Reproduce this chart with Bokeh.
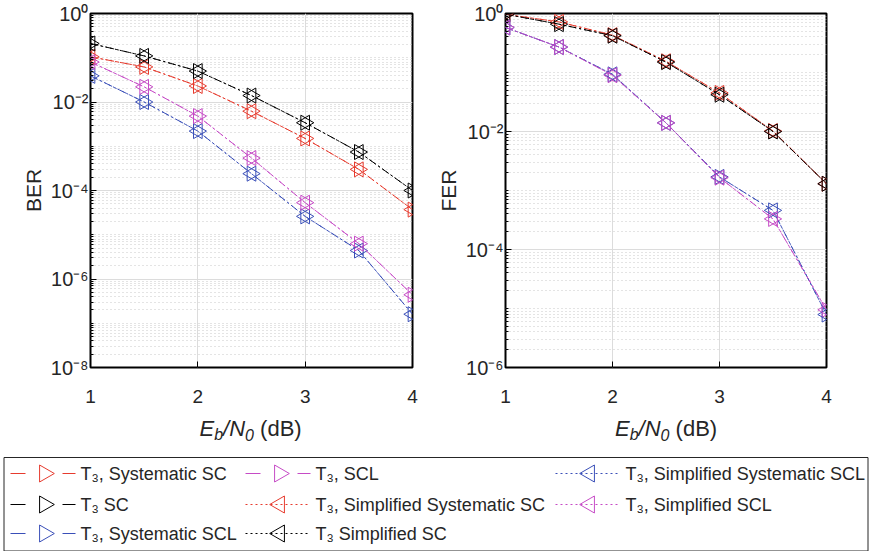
import math
from bokeh.plotting import figure
from bokeh.layouts import column, row
from bokeh.models import FixedTicker, CustomJSTickFormatter, Range1d
from bokeh.core.properties import value
from bokeh.embed import file_html
from bokeh.resources import INLINE

# ---------------- data ----------------
ebn0 = [1.0, 1.5, 2.0, 2.5, 3.0, 3.5, 4.0]

ber_sys_sc = [1.05e-1, 6.2e-2, 2.3e-2, 6.2e-3, 1.5e-3, 3.0e-4, 3.7e-5]
ber_sc = [2.1e-1, 1.1e-1, 5.0e-2, 1.4e-2, 3.4e-3, 7.4e-4, 1.0e-4]
ber_sys_scl = [3.9e-2, 1.0e-2, 2.2e-3, 2.4e-4, 2.6e-5, 4.4e-6, 1.6e-7]
ber_scl = [8.0e-2, 2.2e-2, 4.8e-3, 5.4e-4, 5.3e-5, 6.3e-6, 4.4e-7]

fer_sys_sc = [0.97, 0.72, 0.43, 0.155, 0.045, 1.02e-2, 1.3e-3]
fer_sc = [0.97, 0.66, 0.42, 0.150, 0.042, 1.00e-2, 1.3e-3]
fer_sys_scl = [0.58, 0.27, 0.093, 1.4e-2, 1.7e-3, 4.6e-4, 7.9e-6]
fer_scl = [0.58, 0.27, 0.090, 1.4e-2, 1.65e-3, 3.3e-4, 9.5e-6]

labels = ["T\u2083, Systematic SC", "T\u2083 SC", "T\u2083, Systematic SCL",
          "T\u2083, SCL", "T\u2083, Simplified Systematic SC",
          "T\u2083 Simplified SC", "T\u2083, Simplified Systematic SCL",
          "T\u2083, Simplified SCL"]

RED, BLACK, BLUE, MAG = "#E63B2E", "#000000", "#3A4FB8", "#C64BC6"
colors = [RED, BLACK, BLUE, MAG, RED, BLACK, BLUE, MAG]
DASHDOT = "8 3 2 3"
DOT = "2 3"
dashes = [DASHDOT] * 4 + [DOT] * 4
leg_dashes = ["15 37"] * 4 + [DOT] * 4
angles = [-math.pi / 2] * 4 + [math.pi / 2] * 4

ber_series = [ber_sys_sc, ber_sc, ber_sys_scl, ber_scl,
              ber_sys_sc, ber_sc, ber_sys_scl, ber_scl]
fer_series = [fer_sys_sc, fer_sc, fer_sys_scl, fer_scl,
              fer_sys_sc, fer_sc, fer_sys_scl, fer_scl]

FONT = "Liberation Sans"
TXT = "#262626"
MSIZE = 15
LSIZE = 17

sup_code = """
const e = Math.round(Math.log10(tick));
const m = {"-":"\u207b","0":"\u2070","1":"\u00b9","2":"\u00b2","3":"\u00b3",
           "4":"\u2074","5":"\u2075","6":"\u2076","7":"\u2077","8":"\u2078","9":"\u2079"};
return "10" + String(e).split("").map(c => m[c]).join("");
"""

TOP, FH, BOT = 13, 354, 42


def make_panel(ylabel, ymin_exp, series, bl, br, fw):
    p = figure(frame_width=fw, frame_height=FH,
               x_range=Range1d(1, 4), y_range=Range1d(10.0 ** ymin_exp, 1.0),
               y_axis_type="log", output_backend="svg", toolbar_location=None,
               min_border_left=bl, min_border_right=br, min_border_top=TOP,
               min_border_bottom=BOT)
    p.outline_line_color = "black"
    p.outline_line_width = 2

    majors = [10.0 ** k for k in range(ymin_exp, 1, 2)]
    minors = [m * 10.0 ** k for k in range(ymin_exp, 0) for m in range(1, 10)
              if m * 10.0 ** k not in majors]
    p.yaxis.ticker = FixedTicker(ticks=majors, minor_ticks=minors)
    p.yaxis.formatter = CustomJSTickFormatter(code=sup_code)
    p.xaxis.ticker = FixedTicker(ticks=[1, 2, 3, 4])

    for ax in (p.xaxis, p.yaxis):
        ax.axis_line_color = None
        ax.major_tick_in = 6
        ax.major_tick_out = 0
        ax.minor_tick_in = 3
        ax.minor_tick_out = 0
        ax.major_tick_line_color = "black"
        ax.minor_tick_line_color = "black"
        ax.major_label_text_font = FONT
        ax.major_label_text_color = TXT
    p.xaxis.major_label_text_font_size = "19px"
    p.yaxis.major_label_text_font_size = "20px"
    p.xaxis.minor_tick_line_color = None
    p.xaxis.major_label_standoff = 22
    p.yaxis.major_label_standoff = 2
    p.yaxis.axis_label = ylabel
    p.yaxis.axis_label_text_font = FONT
    p.yaxis.axis_label_text_font_size = "21px"
    p.yaxis.axis_label_text_font_style = "normal"
    p.yaxis.axis_label_text_color = TXT
    p.yaxis.axis_label_standoff = 3

    p.xgrid.grid_line_color = "#DCDCDC"
    p.ygrid.grid_line_color = "#DCDCDC"
    p.ygrid.minor_grid_line_color = "#C8C8C8"
    p.ygrid.minor_grid_line_dash = "1 3"

    for ys, c, d, a in zip(series, colors, dashes, angles):
        p.line(ebn0, ys, line_color=c, line_dash=d, line_width=1)
        p.scatter(ebn0, ys, marker="triangle", size=MSIZE, angle=a,
                  fill_color=None, line_color=c, line_width=1)
    return p


p1 = make_panel("BER", -8, ber_series, 90, 20, 322)
p2 = make_panel("FER", -6, fer_series, 73, 46, 321)

# ------------- bottom strip: x labels + legend (pixel coordinates) -------------
BW = 872
BH = 551 - (TOP + FH + BOT)
bot = figure(width=BW, height=BH, x_range=Range1d(0, BW), y_range=Range1d(0, BH),
             output_backend="svg", toolbar_location=None,
             x_axis_location=None, y_axis_location=None, min_border=0)
bot.grid.visible = False
bot.outline_line_color = None

# x-axis labels "E_b/N_0 (dB)" under each panel
for cx in (250, 665.5):
    parts = [("E", 22, "italic", -51, 0), ("b", 16, "italic", -36.3, -6),
             ("/N", 22, "italic", -27.4, 0), ("0", 16, "italic", -5.4, -6),
             ("(dB)", 22, "normal", 9.6, 0)]
    for t, fs, st, xo, yo in parts:
        bot.text(x=[cx + xo], y=[BH - 19 + yo], text=[t], text_font=value(FONT),
                 text_font_size=f"{fs}px", text_font_style=st,
                 text_color=TXT, text_baseline="alphabetic", text_align="left")

# legend box
bot.quad(left=[3.5], right=[867.5], bottom=[0.5], top=[94],
         fill_color=None, line_color="#262626", line_width=1)

col_x = [10, 245, 555]
row_y = [78, 47, 18]
for i, (c, d, a, lab) in enumerate(zip(colors, leg_dashes, angles, labels)):
    x0 = col_x[i // 3]
    y0 = row_y[i % 3]
    bot.segment(x0=[x0], y0=[y0], x1=[x0 + 65], y1=[y0], line_color=c,
                line_dash=d, line_width=1)
    bot.scatter(x=[x0 + 34], y=[y0], marker="triangle", size=LSIZE, angle=a,
                fill_color=None, line_color=c, line_width=1)
    bot.text(x=[x0 + 70], y=[y0], text=[lab], text_font=value(FONT),
             text_font_size="18px", text_color=TXT, text_baseline="middle",
             text_align="left")

layout = column(row(p1, p2), bot)
open("out.html", "w").write(file_html(layout, INLINE))
